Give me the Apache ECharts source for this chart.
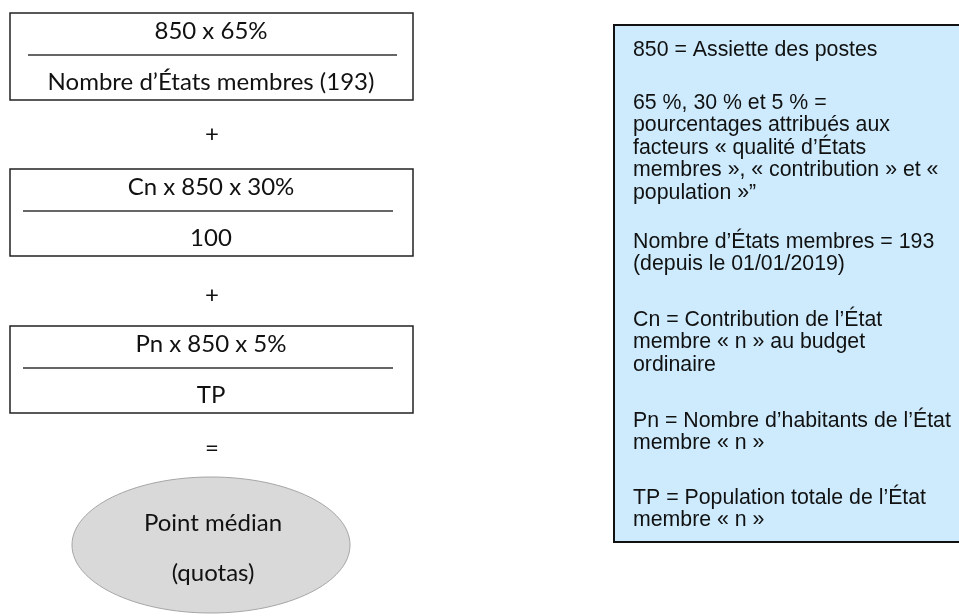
<!DOCTYPE html>
<html><head><meta charset="utf-8">
<script src="https://cdn.jsdelivr.net/npm/echarts@6/dist/echarts.min.js"></script>
<style>html,body{margin:0;padding:0;background:#fff}#c{width:959px;height:616px}</style>
</head><body><div id="c"></div>
<script>
// ---- content (text only) ----
const numerators = ['850 x 65%', 'Cn x 850 x 30%', 'Pn x 850 x 5%'];
const denominators = ['Nombre d\u2019\u00C9tats membres (193)', '100', 'TP'];
const operators = ['+', '+', '='];
const resultLines = ['Point m\u00E9dian', '(quotas)'];
const notes = [
  ['850 = Assiette des postes'],
  ['65 %, 30 % et 5 % =', 'pourcentages attribu\u00E9s aux', 'facteurs \u00AB qualit\u00E9 d\u2019\u00C9tats', 'membres \u00BB, \u00AB contribution \u00BB et \u00AB', 'population \u00BB\u201D'],
  ['Nombre d\u2019\u00C9tats membres = 193', '(depuis le 01/01/2019)'],
  ['Cn = Contribution de l\u2019\u00C9tat', 'membre \u00AB n \u00BB au budget', 'ordinaire'],
  ['Pn = Nombre d\u2019habitants de l\u2019\u00C9tat', 'membre \u00AB n \u00BB'],
  ['TP = Population totale de l\u2019\u00C9tat', 'membre \u00AB n \u00BB']
];

// ---- layout ----
const chart = echarts.init(document.getElementById('c'), null, {renderer: 'canvas'});
const leftFont = 'Lato, "Open Sans", sans-serif';
const rightFont = '"Liberation Sans", Arial, sans-serif';
const boxTops = [13, 169, 326];
const boxH = 87;
const opY = [134, 295, 448];
const cx = 211;
const g = [];

numerators.forEach((num, i) => {
  const t = boxTops[i];
  g.push({type: 'rect', shape: {x: 10, y: t, width: 403, height: boxH},
    style: {fill: '#fff', stroke: '#222', lineWidth: 1.5}});
  g.push({type: 'line', shape: {x1: i === 0 ? 28 : 23, y1: t + 42, x2: i === 0 ? 397 : 393, y2: t + 42},
    style: {stroke: '#333', lineWidth: 1.3}});
  g.push({type: 'text', x: cx, y: t + 18, style: {text: num, font: '24px ' + leftFont, fill: '#111', align: 'center', verticalAlign: 'middle'}});
  g.push({type: 'text', x: cx, y: t + 69, style: {text: denominators[i], font: '24px ' + leftFont, fill: '#111', align: 'center', verticalAlign: 'middle'}});
});
operators.forEach((op, i) => {
  g.push({type: 'text', x: cx + 1, y: opY[i], style: {text: op, font: '24px ' + leftFont, fill: '#111', align: 'center', verticalAlign: 'middle'}});
});
g.push({type: 'ellipse', shape: {cx: cx, cy: 545, rx: 139, ry: 68},
  style: {fill: '#d9d9d9', stroke: '#a6a6a6', lineWidth: 1}});
g.push({type: 'text', x: cx + 2, y: 523, style: {text: resultLines[0], font: '24px ' + leftFont, fill: '#111', align: 'center', verticalAlign: 'middle'}});
g.push({type: 'text', x: cx + 2, y: 573, style: {text: resultLines[1], font: '24px ' + leftFont, fill: '#111', align: 'center', verticalAlign: 'middle'}});

// right note box
g.push({type: 'rect', shape: {x: 614, y: 25, width: 360, height: 517},
  style: {fill: '#cdebfd', stroke: '#111', lineWidth: 2}});
const paraY = [50, 103, 242, 320, 421, 498];
const pitch = 22.5;
notes.forEach((para, p) => {
  para.forEach((line, j) => {
    g.push({type: 'text', x: 633, y: paraY[p] + j * pitch,
      style: {text: line, font: '21.3px ' + rightFont, fill: '#111', align: 'left', verticalAlign: 'middle'}});
  });
});

chart.setOption({backgroundColor: '#fff', graphic: {elements: g}});
</script></body></html>
